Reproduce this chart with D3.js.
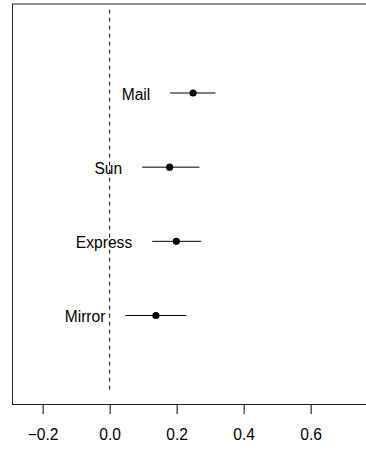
<!DOCTYPE html>
<html>
<head>
<meta charset="utf-8">
<script src="https://cdn.jsdelivr.net/npm/d3@7"></script>
<style>
  html, body { margin: 0; padding: 0; background: #fff; }
  svg { display: block; font-family: "Liberation Sans", Arial, Helvetica, sans-serif; }
</style>
</head>
<body>
<svg id="chart" width="366" height="450"></svg>
<script>
// Estimated effect with interval, one row per newspaper (bottom to top)
const papers = ["Mirror", "Express", "Sun", "Mail"];
const estimate = [0.138, 0.199, 0.179, 0.249];
const lower = [0.047, 0.127, 0.097, 0.181];
const upper = [0.229, 0.273, 0.268, 0.316];
const xTicks = [-0.2, 0.0, 0.2, 0.4, 0.6];

const svg = d3.select("#chart");
const fontSize = 15.6;

// Plot region (the right edge of the frame runs past the window)
const plotLeft = 12.5, plotTop = 4, plotBottom = 404.5, plotRight = 374.3;

const x = d3.scaleLinear().domain([-0.29, 0.79]).range([plotLeft, plotRight]);
const y = d3.scaleLinear().domain([-0.2, 5.2]).range([plotBottom, plotTop]);

// Frame
svg.append("rect")
  .attr("x", plotLeft).attr("y", plotTop)
  .attr("width", plotRight - plotLeft).attr("height", plotBottom - plotTop)
  .attr("fill", "none").attr("stroke", "#222").attr("stroke-width", 1);

// Reference line at zero
svg.append("line")
  .attr("x1", x(0)).attr("x2", x(0))
  .attr("y1", y(0)).attr("y2", y(5.15))
  .attr("stroke", "#000").attr("stroke-width", 1)
  .attr("stroke-dasharray", "4,4");

// Bottom axis
const xAxis = d3.axisBottom(x)
  .tickValues(xTicks)
  .tickSize(9.5)
  .tickPadding(0)
  .tickFormat(d => d3.format(".1f")(d).replace("-", "\u2212"));

const gx = svg.append("g")
  .attr("transform", `translate(0,${plotBottom})`)
  .call(xAxis);
gx.select(".domain").remove();
gx.selectAll(".tick line").attr("stroke", "#000");
gx.selectAll(".tick text")
  .attr("fill", "#000")
  .attr("font-size", fontSize)
  .attr("dy", null)
  .attr("y", 35);

// Rows
const rows = papers.map((p, i) => ({ name: p, pos: i + 1, est: estimate[i], lo: lower[i], hi: upper[i] }));

const g = svg.append("g");
g.selectAll("line.ci").data(rows).join("line")
  .attr("class", "ci")
  .attr("x1", d => x(d.lo)).attr("x2", d => x(d.hi))
  .attr("y1", d => y(d.pos)).attr("y2", d => y(d.pos))
  .attr("stroke", "#000").attr("stroke-width", 1);

g.selectAll("circle").data(rows).join("circle")
  .attr("cx", d => x(d.est)).attr("cy", d => y(d.pos))
  .attr("r", 3.6).attr("fill", "#000");

g.selectAll("text.lab").data(rows).join("text")
  .attr("class", "lab")
  .attr("x", d => x(d.lo) - 20)
  .attr("y", d => y(d.pos) + 6.5)
  .attr("text-anchor", "end")
  .attr("font-size", fontSize)
  .attr("fill", "#000")
  .text(d => d.name);
</script>
</body>
</html>
